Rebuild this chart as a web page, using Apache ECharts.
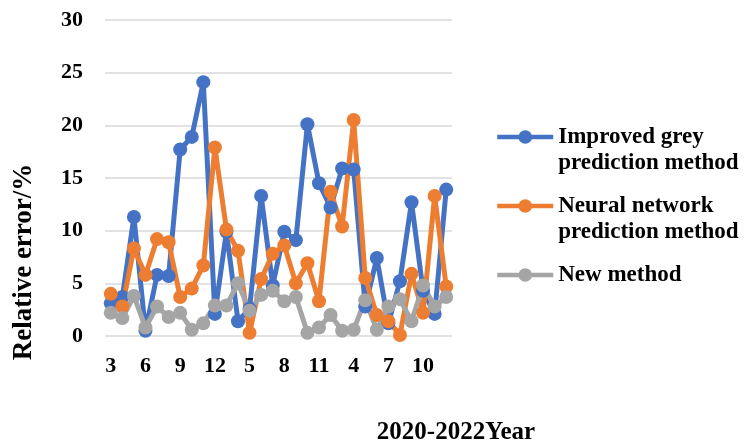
<!DOCTYPE html>
<html>
<head>
<meta charset="utf-8">
<script src="https://cdn.jsdelivr.net/npm/echarts@6/dist/echarts.min.js"></script>
<style>
	html, body { margin: 0; padding: 0; background: #fff; }
	#echarts_box { width: 745px; height: 443px; }
</style>
</head>
<body>
<div id="echarts_box"></div>
<script>
/*月份 (2020-2022, 每年3-12月)*/
var months = ['3', '4', '5', '6', '7', '8', '9', '10', '11', '12',
	'3', '4', '5', '6', '7', '8', '9', '10', '11', '12',
	'3', '4', '5', '6', '7', '8', '9', '10', '11', '12'];
var seriesNames = ['Improved grey prediction method', 'Neural network prediction method', 'New method'];
/*改进灰色预测*/
var greyMethod = [3.1, 3.7, 11.3, 0.5, 5.8, 5.7, 17.7, 18.9, 24.1, 2.1,
	9.9, 1.4, 2.6, 13.3, 4.8, 9.9, 9.1, 20.1, 14.5, 12.2,
	15.9, 15.8, 2.8, 7.4, 1.2, 5.2, 12.7, 4.3, 2.1, 13.9];
/*神经网络预测*/
var neuralMethod = [4.0, 2.8, 8.3, 5.8, 9.2, 8.9, 3.7, 4.5, 6.7, 17.9,
	10.1, 8.1, 0.3, 5.4, 7.8, 8.6, 5.0, 6.9, 3.3, 13.7,
	10.4, 20.5, 5.5, 2.0, 1.4, 0.1, 5.9, 2.2, 13.3, 4.7];
/*新方法*/
var newMethod = [2.2, 1.7, 3.8, 0.8, 2.8, 1.8, 2.2, 0.6, 1.2, 2.9,
	2.9, 5.0, 2.4, 3.9, 4.3, 3.3, 3.7, 0.3, 0.8, 2.0,
	0.5, 0.6, 3.4, 0.6, 2.8, 3.5, 1.4, 4.8, 2.8, 3.7];
var colors = ['#4472C4', '#ED7D31', '#A5A5A5'];

var font = '"Liberation Serif", "Times New Roman", serif';
var chart = echarts.init(document.getElementById('echarts_box'));

function makeSeries(name, data, color) {
	return {
		name: name,
		type: 'line',
		data: data,
		symbol: 'circle',
		symbolSize: 14,
		showSymbol: true,
		showAllSymbol: true,
		color: color,
		lineStyle: { width: 5, color: color },
		itemStyle: { color: color },
		emphasis: { disabled: true },
		animation: false
	};
}

/*图例文字: 上下各补一行, 使图标对齐第一行*/
var legendText = {
	'Improved grey prediction method': '\nImproved grey\nprediction method',
	'Neural network prediction method': '\nNeural network\nprediction method',
	'New method': '\nNew method\n '
};

var option = {
	grid: { left: 105, right: 293, top: 20, bottom: 107 },
	legend: {
		orient: 'vertical',
		left: 495,
		top: 98,
		padding: 0,
		itemWidth: 56,
		itemHeight: 17,
		itemGap: -9,
		lineStyle: { width: 4.5 },
		textStyle: {
			fontFamily: font, fontWeight: 'bold', fontSize: 23, color: '#000',
			lineHeight: 26
		},
		formatter: function(name) {
			return legendText[name];
		},
		data: seriesNames
	},
	xAxis: {
		type: 'category',
		data: months,
		boundaryGap: true,
		axisLine: { show: false },
		axisTick: { show: false },
		axisLabel: {
			interval: 2,
			margin: 19,
			fontFamily: font, fontWeight: 'bold', fontSize: 22, color: '#000'
		}
	},
	yAxis: {
		type: 'value',
		min: 0,
		max: 30,
		interval: 5,
		axisLine: { show: false },
		axisTick: { show: false },
		splitLine: { lineStyle: { color: '#D9D9D9', width: 1.5 } },
		axisLabel: {
			margin: 22,
			fontFamily: font, fontWeight: 'bold', fontSize: 22, color: '#000'
		}
	},
	graphic: [{
		type: 'text',
		x: 24, y: 262,
		rotation: Math.PI / 2,
		style: {
			text: 'Relative error/%',
			font: 'bold 27px ' + font,
			fill: '#000',
			align: 'center',
			verticalAlign: 'middle'
		}
	}, {
		type: 'text',
		x: 456, y: 433,
		style: {
			text: '2020-2022Year',
			font: 'bold 25px ' + font,
			fill: '#000',
			align: 'center',
			verticalAlign: 'middle'
		}
	}],
	series: [
		makeSeries(seriesNames[0], greyMethod, colors[0]),
		makeSeries(seriesNames[1], neuralMethod, colors[1]),
		makeSeries(seriesNames[2], newMethod, colors[2])
	]
};
chart.setOption(option);
</script>
</body>
</html>
